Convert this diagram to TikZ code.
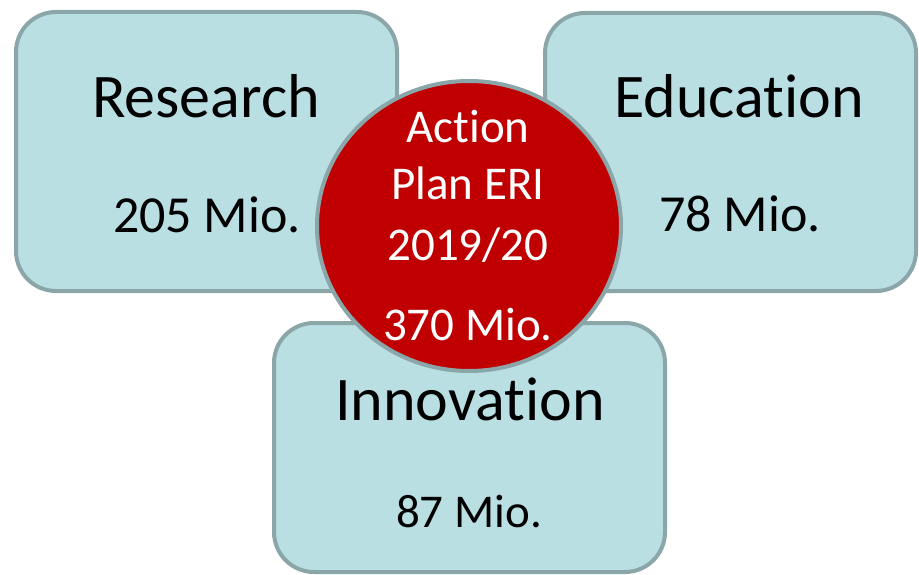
\documentclass[tikz,border=0pt]{standalone}
\usepackage{fontspec}
\setmainfont[Ligatures=NoCommon]{Carlito}
\definecolor{boxfill}{RGB}{185,223,227}
\definecolor{boxline}{RGB}{139,166,169}
\definecolor{planred}{RGB}{192,0,0}
\newcommand{\bigtxt}{\fontsize{62}{62}\selectfont}
\newcommand{\midtxt}{\fontsize{52}{52}\selectfont}
\newcommand{\smalltxt}{\fontsize{47}{47}\selectfont}
\begin{document}
\begin{tikzpicture}[x=1pt,y=-1pt,
  field/.style={draw=boxline,fill=boxfill,line width=4pt,rounded corners=40pt},
  lbl/.style={anchor=base,inner sep=0pt}]
  \useasboundingbox (0,0) rectangle (919,575);
  %research box
  \draw[field] (16,12) rectangle (397,291);
  \node[lbl] (research) at (206,118) {\bigtxt Research};
  \node[lbl] (researchmio) at (207,233) {\midtxt 205 Mio.};

  %education box
  \draw[field] (545,13) rectangle (916,291);
  \node[lbl] (education) at (739,118) {\bigtxt Education};
  \node[lbl] (educationmio) at (740,232) {\midtxt 78 Mio.};

  %innovation box
  \draw[field] (274,323) rectangle (665,572);
  \node[lbl] (innovation) at (470,420) {\bigtxt Innovation};
  \node[lbl] (innovationmio) at (469,527) {\smalltxt 87 Mio.};

  %action plan in the middle
  \draw[draw=boxline,fill=planred,line width=4pt] (469,226) ellipse [x radius=152,y radius=145];
  \node[lbl,white] (action) at (468,143) {\smalltxt Action};
  \node[lbl,white] (plan) at (468,200) {\smalltxt Plan ERI};
  \node[lbl,white] (year) at (468,260) {\smalltxt 2019/20};
  \node[lbl,white] (total) at (468,340) {\smalltxt 370 Mio.};
\end{tikzpicture}
\end{document}
